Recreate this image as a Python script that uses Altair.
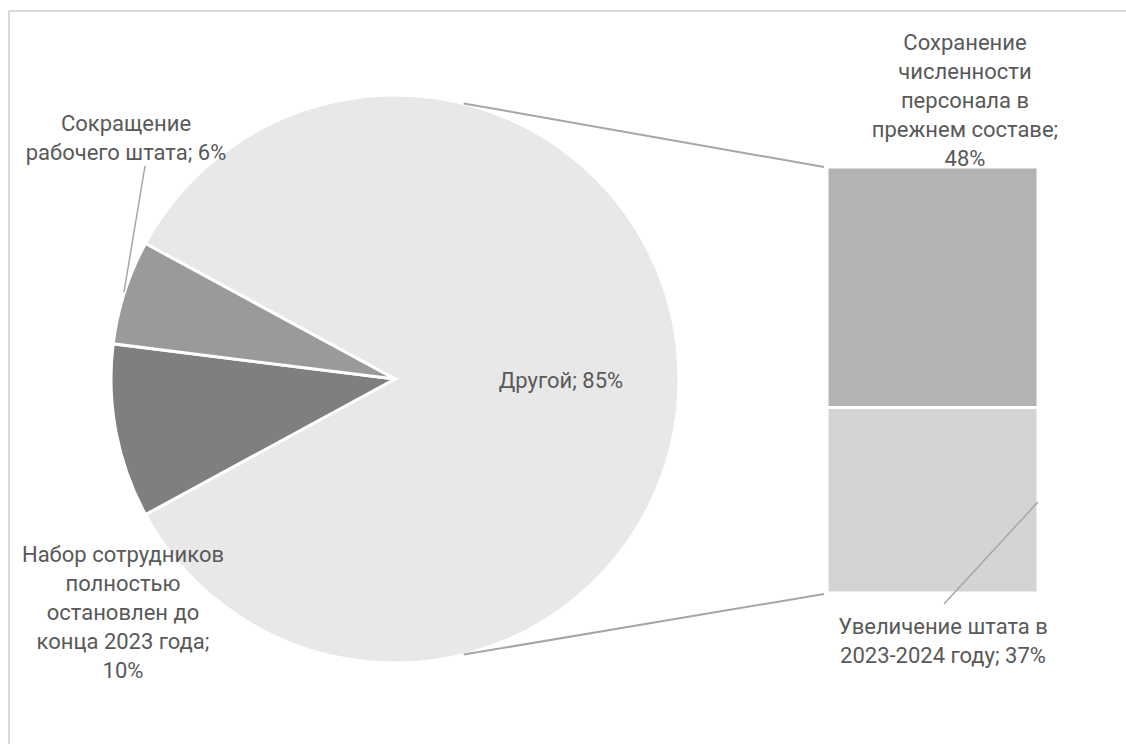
import math
import altair as alt
import pandas as pd

# ---------------- data ----------------
pie_categories = ["Другой",
                  "Набор сотрудников полностью остановлен до конца 2023 года",
                  "Сокращение рабочего штата"]
pie_values = [85, 10, 6]
pie_colors = ["#e8e8e8", "#7f7f7f", "#9a9a9a"]

bar_categories = ["Увеличение штата в 2023-2024 году",
                  "Сохранение численности персонала в прежнем составе"]
bar_values = [37, 48]
bar_colors = ["#d4d4d4", "#b3b3b3"]

label_other = "Другой; 85%"
label_stop = "Набор сотрудников\nполностью\nостановлен до\nконца 2023 года;\n10%"
label_cut = "Сокращение\nрабочего штата; 6%"
label_keep = "Сохранение\nчисленности\nперсонала в\nпрежнем составе;\n48%"
label_grow = "Увеличение штата в\n2023-2024 году; 37%"

# ---------------- layout ----------------
W, H = 1126, 744
CX, CY, R = 395, 379, 284
START_DEG = -61.5           # where the "Другой" slice begins (clockwise from 12 o'clock)
BAR_X0, BAR_X1 = 827, 1038
BAR_BOTTOM, BAR_TOP = 593, 167
TEXT = "#595959"
LINE = "#a6a6a6"
FONT = "Roboto"
FS = 22
LH = 29

pie_df = pd.DataFrame({"cat": pie_categories, "value": pie_values,
                       "ord": list(range(len(pie_categories)))})
bar_df = pd.DataFrame({"cat": bar_categories, "value": bar_values,
                       "ord": list(range(len(bar_categories)))})
one = pd.DataFrame({"k": [0]})

color_scale = alt.Scale(domain=pie_categories + bar_categories,
                        range=pie_colors + bar_colors)

start = math.radians(START_DEG)
pie = alt.Chart(pie_df).mark_arc(radius=R, stroke="white", strokeWidth=3).encode(
    x=alt.value(CX), y=alt.value(CY),
    theta=alt.Theta("value:Q", stack=True,
                    scale=alt.Scale(range=[start, start + 2 * math.pi])),
    order=alt.Order("ord:Q", sort="ascending"),
    color=alt.Color("cat:N", scale=color_scale, legend=None),
)

bar = alt.Chart(bar_df).transform_stack(
    stack="value", as_=["v0", "v1"], groupby=[],
    sort=[alt.SortField("ord", order="ascending")],
).mark_rect(stroke="white", strokeWidth=3).encode(
    x=alt.value(BAR_X0), x2=alt.value(BAR_X1),
    y=alt.Y("v0:Q", axis=None,
            scale=alt.Scale(domain=[0, sum(bar_values)], range=[BAR_BOTTOM, BAR_TOP])),
    y2="v1:Q",
    color=alt.Color("cat:N", scale=color_scale, legend=None),
)


def seg(x1, y1, x2, y2, color=LINE, w=2.0):
    return alt.Chart(one).mark_rule(color=color, strokeWidth=w).encode(
        x=alt.value(x1), y=alt.value(y1), x2=alt.value(x2), y2=alt.value(y2))


def pie_pt(deg):
    a = math.radians(deg)
    return CX + R * math.sin(a), CY - R * math.cos(a)


tx, ty = pie_pt(14)
bx, by = pie_pt(166)
connectors = [seg(tx, ty, BAR_X0 - 3, BAR_TOP), seg(bx, by, BAR_X0 - 3, BAR_BOTTOM + 1)]
leaders = [seg(145, 166, 124, 292, w=1.5), seg(1038, 502, 944, 604, w=1.5)]
border = [seg(9, 11, W + 5, 11, color="#d9d9d9", w=2),
          seg(9, 11, 9, H + 5, color="#d9d9d9", w=2)]


def label(text, x, y):
    return alt.Chart(pd.DataFrame({"t": [text]})).mark_text(
        align="center", baseline="middle", lineBreak="\n", lineHeight=LH,
        font=FONT, fontSize=FS, color=TEXT).encode(
        text="t:N", x=alt.value(x), y=alt.value(y))


labels = [
    label(label_other, 561, 381),
    label(label_cut, 126, 124),
    label(label_stop, 123, 555),
    label(label_keep, 965, 43),
    label(label_grow, 943, 627),
]

chart = alt.layer(*border, pie, *connectors, bar, *leaders, *labels).properties(
    width=W, height=H, autosize=alt.AutoSizeParams(type="none"), padding=0,
    background="white",
).configure_view(stroke=None)

chart.save("out.html", embed_options={"renderer": "svg", "actions": False})
